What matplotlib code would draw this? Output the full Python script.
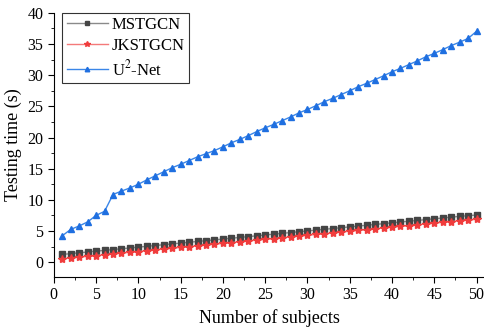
import matplotlib.pyplot as plt
from matplotlib.ticker import MultipleLocator

plt.rcParams["font.family"] = ["Liberation Serif", "DejaVu Serif"]
plt.rcParams["mathtext.fontset"] = "stix"

subjects = list(range(1, 51))

mstgcn = [1.23, 1.36, 1.49, 1.62, 1.75, 1.88, 2.01, 2.14, 2.27, 2.40,
          2.53, 2.66, 2.79, 2.92, 3.05, 3.18, 3.31, 3.44, 3.57, 3.70,
          3.83, 3.96, 4.09, 4.22, 4.35, 4.48, 4.61, 4.74, 4.87, 5.00,
          5.13, 5.26, 5.39, 5.52, 5.65, 5.78, 5.91, 6.04, 6.17, 6.30,
          6.43, 6.56, 6.69, 6.82, 6.95, 7.08, 7.21, 7.34, 7.45, 7.55]

jkstgcn = [0.53, 0.66, 0.79, 0.92, 1.05, 1.18, 1.31, 1.44, 1.57, 1.70,
           1.83, 1.96, 2.09, 2.22, 2.35, 2.48, 2.61, 2.74, 2.87, 3.00,
           3.13, 3.26, 3.39, 3.52, 3.65, 3.78, 3.91, 4.04, 4.17, 4.30,
           4.43, 4.56, 4.69, 4.82, 4.95, 5.08, 5.21, 5.34, 5.47, 5.60,
           5.73, 5.86, 5.99, 6.12, 6.25, 6.38, 6.51, 6.64, 6.75, 6.86]

u2net = [4.23, 5.25, 5.80, 6.45, 7.50, 8.15, 10.85, 11.40, 11.90, 12.50,
         13.20, 13.85, 14.50, 15.15, 15.70, 16.30, 16.90, 17.40, 17.90, 18.50,
         19.15, 19.70, 20.30, 20.95, 21.55, 22.10, 22.70, 23.30, 23.95, 24.50,
         25.10, 25.75, 26.30, 26.90, 27.50, 28.15, 28.70, 29.30, 29.90, 30.55,
         31.10, 31.70, 32.30, 32.95, 33.50, 34.10, 34.75, 35.30, 35.90, 37.05]

fig = plt.figure(figsize=(4.85, 3.31), dpi=100)
ax = fig.add_axes([0.111, 0.163, 0.889, 0.798])

ax.plot(subjects, mstgcn, color="#8a8a8a", lw=1.0, marker="s", ms=4.5,
        mfc="#454545", mec="#454545", label="MSTGCN")
ax.plot(subjects, jkstgcn, color="#f47a7a", lw=1.0, marker="*", ms=6,
        mfc="#f03c3c", mec="#f03c3c", label="JKSTGCN")
ax.plot(subjects, u2net, color="#3a86e8", lw=1.0, marker="^", ms=5,
        mfc="#1f6fe0", mec="#1f6fe0", label="U$^2$-Net")

ax.set_xlim(0, 51)
ax.set_ylim(-2.4, 40)
ax.xaxis.set_major_locator(MultipleLocator(5))
ax.xaxis.set_minor_locator(MultipleLocator(2.5))
ax.yaxis.set_major_locator(MultipleLocator(5))
ax.yaxis.set_minor_locator(MultipleLocator(2.5))
ax.tick_params(which="major", direction="out", length=4, labelsize=11.5)
ax.tick_params(which="minor", direction="out", length=2.5)

for side in ("top", "right"):
    ax.spines[side].set_visible(False)

ax.set_xlabel("Number of subjects", fontsize=13)
ax.set_ylabel("Testing time (s)", fontsize=13)

leg = ax.legend(loc="upper left", bbox_to_anchor=(0.02, 1.0), fontsize=12,
                frameon=True, fancybox=False, edgecolor="black",
                borderaxespad=0, markerscale=0.65,
                handlelength=2.5, borderpad=0.25, labelspacing=0.3,
                handletextpad=0.2)
leg.get_frame().set_linewidth(0.8)

fig.savefig("out.png", dpi=100)
